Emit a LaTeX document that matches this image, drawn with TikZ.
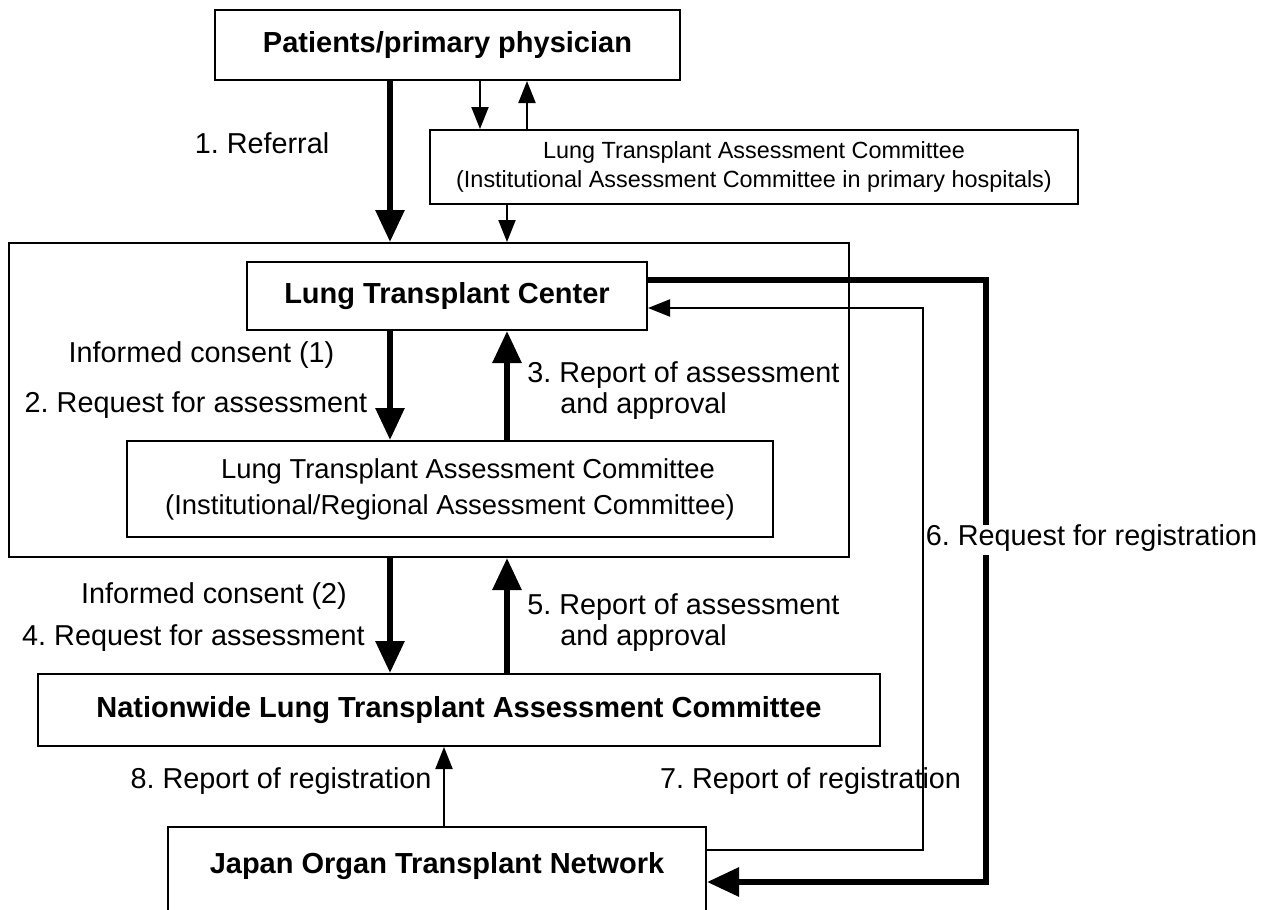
\documentclass[tikz,border=0pt]{standalone}
\usepackage{fontspec}
\setmainfont{Liberation Sans}
\usetikzlibrary{arrows.meta}
\frenchspacing
\begin{document}
\begin{tikzpicture}[x=0.5pt,y=-0.5pt,
  box/.style={draw, line width=1pt, inner sep=0pt, align=center},
  lab/.style={font=\fontsize{14.4}{15.5}\selectfont, align=center, inner sep=0pt, text height=0.72em, text depth=0.2em},
  btxt/.style={font=\fontsize{14.5}{17}\selectfont\bfseries},
  thickarr/.style={line width=3pt, -{Triangle[length=16pt,width=14pt]}},
  thinarr/.style={line width=1pt, -{Triangle[length=11pt,width=8.5pt]}},
]
\useasboundingbox (0,0) rectangle (1266,910);
\clip (0,0) rectangle (1266,910);

% boxes
\node[box, minimum width=232.5pt, minimum height=35pt, btxt] (top) at (447.5,45) {Patients/primary physician};
\node[box, minimum width=324pt, minimum height=37pt, font=\fontsize{11.7}{14.5}\selectfont] (small) at (754,167)
  {Lung Transplant Assessment Committee\\(Institutional Assessment Committee in primary hospitals)};
\node[box, minimum width=420pt, minimum height=157pt] (outer) at (429,400) {};
\node[box, minimum width=200pt, minimum height=34pt, btxt] (ltc) at (447,296) {Lung Transplant Center};
\node[box, minimum width=323pt, minimum height=48pt, font=\fontsize{13.7}{18}\selectfont] (inner) at (450,489)
  {\hspace*{18pt}Lung Transplant Assessment Committee\\(Institutional/Regional Assessment Committee)};
\node[box, minimum width=421pt, minimum height=36pt, btxt] (nat) at (459,710) {Nationwide Lung Transplant Assessment Committee};
\node[box, minimum width=269pt, minimum height=46pt, anchor=north] (jotn) at (437,826) {};
\node[btxt] (jotntext) at (437,866) {Japan Organ Transplant Network};

% helper coordinates
\coordinate (xa) at (390,0);
\coordinate (xb) at (507,0);
\coordinate (xc) at (480,0);
\coordinate (xd) at (527,0);
\coordinate (xe) at (444,0);
\coordinate (ya) at (0,280);
\coordinate (yb) at (0,308);
\coordinate (yc) at (0,850);
\coordinate (yd) at (0,882);
\coordinate (xr6) at (986,0);
\coordinate (xr7) at (923,0);

% connectors
\draw[thickarr] (top.south -| xa) -- (outer.north -| xa);
\draw[thinarr] (top.south -| xc) -- (small.north -| xc);
\draw[thinarr] (small.north -| xd) -- (top.south -| xd);
\draw[thinarr] (small.south -| xb) -- (outer.north -| xb);
\draw[thickarr] (ltc.south -| xa) -- (inner.north -| xa);
\draw[thickarr] (inner.north -| xb) -- (ltc.south -| xb);
\draw[thickarr] (outer.south -| xa) -- (nat.north -| xa);
\draw[thickarr] (nat.north -| xb) -- (outer.south -| xb);
\draw[thinarr] (jotn.north -| xe) -- (nat.south -| xe);
\draw[thickarr] (ltc.east |- ya) -| (xr6 |- yd) -- (jotn.east |- yd);
\node[lab, fill=white, inner ysep=3pt] (l6) at (1091.5,540) {6. Request for registration};
\draw[thinarr] (jotn.east |- yc) -| (xr7 |- yb) -- (ltc.east |- yb);

% labels
\node[lab] (l1) at (262,148) {1. Referral};
\node[lab] (ic1) at (201.5,357) {Informed consent (1)};
\node[lab] (l2) at (196,407) {2. Request for assessment};
\node[lab, align=left, anchor=west, text height=, text depth=, font=\fontsize{14.4}{15.5}\selectfont] (l3) at (527,391) {3. Report of assessment\\\hspace*{16.5pt}and approval};
\node[lab] (ic2) at (214,598) {Informed consent (2)};
\node[lab] (l4) at (193.5,640) {4. Request for assessment};
\node[lab, align=left, anchor=west, text height=, text depth=, font=\fontsize{14.4}{15.5}\selectfont] (l5) at (527,623) {5. Report of assessment\\\hspace*{16.5pt}and approval};
\node[lab] (l8) at (281,783) {8. Report of registration};
\node[lab] (l7) at (810.5,783) {7. Report of registration};
\end{tikzpicture}
\end{document}
